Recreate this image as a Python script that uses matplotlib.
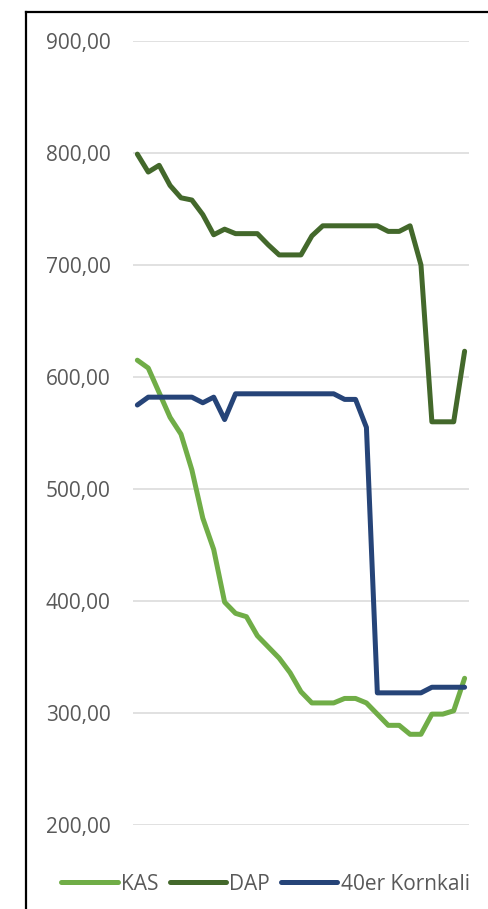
import numpy as np
import matplotlib.pyplot as plt
from matplotlib.lines import Line2D

# Daten (Preise je Zeitpunkt)
kas = [615, 608, 586, 564, 549, 517, 474, 446, 399, 389, 386, 369, 359, 349, 336,
       319, 309, 309, 309, 313, 313, 309, 299, 289, 289, 281, 281, 299, 299, 302, 331]
dap = [799, 783, 789, 771, 760, 758, 745, 727, 732, 728, 728, 728, 718, 709, 709,
       709, 726, 735, 735, 735, 735, 735, 735, 730, 730, 735, 700, 560, 560, 560, 623]
kornkali = [575, 582, 582, 582, 582, 582, 577, 582, 562, 585, 585, 585, 585, 585, 585,
            585, 585, 585, 585, 580, 580, 555, 318, 318, 318, 318, 318, 323, 323, 323, 323]
series_names = ['KAS', 'DAP', '40er Kornkali']
colors = ['#70AD47', '#43682B', '#264478']
yticks = [200, 300, 400, 500, 600, 700, 800, 900]

x = np.arange(len(kas))

fig = plt.figure(figsize=(4.88, 9.09), dpi=100)
ax = fig.add_axes([0.2725, 0.0924, 0.6885, 0.8625])

for vals, name, c in zip([kas, dap, kornkali], series_names, colors):
    ax.plot(x, vals, color=c, lw=3.6, label=name, solid_capstyle='round',
            solid_joinstyle='round')

ax.set_ylim(200, 900)
ax.set_xlim(-0.4, len(kas) - 0.6)
ax.set_yticks(yticks)
ax.set_yticklabels([f'{v:.2f}'.replace('.', ',') for v in yticks],
                   fontfamily='Open Sans', fontsize=15, color='#595959')
ax.tick_params(axis='y', length=0, pad=16)
ax.set_xticks([])
ax.grid(axis='y', color='#D9D9D9', lw=1.1)
ax.set_axisbelow(True)
for s in ax.spines.values():
    s.set_visible(False)

leg = fig.legend(loc='center', bbox_to_anchor=(0.544, 0.0275), ncol=3, frameon=False,
                 prop={'family': 'Open Sans', 'size': 15}, handlelength=2.7,
                 handletextpad=0.15, columnspacing=0.55)
for t in leg.get_texts():
    t.set_color('#595959')

# Rahmen (links und oben sichtbar)
fig.add_artist(Line2D([26 / 488, 26 / 488], [0, 1 - 12 / 909], color='black', lw=1.6))
fig.add_artist(Line2D([26 / 488, 1], [1 - 12 / 909, 1 - 12 / 909], color='black', lw=1.6))

fig.savefig('out.png', dpi=100)
